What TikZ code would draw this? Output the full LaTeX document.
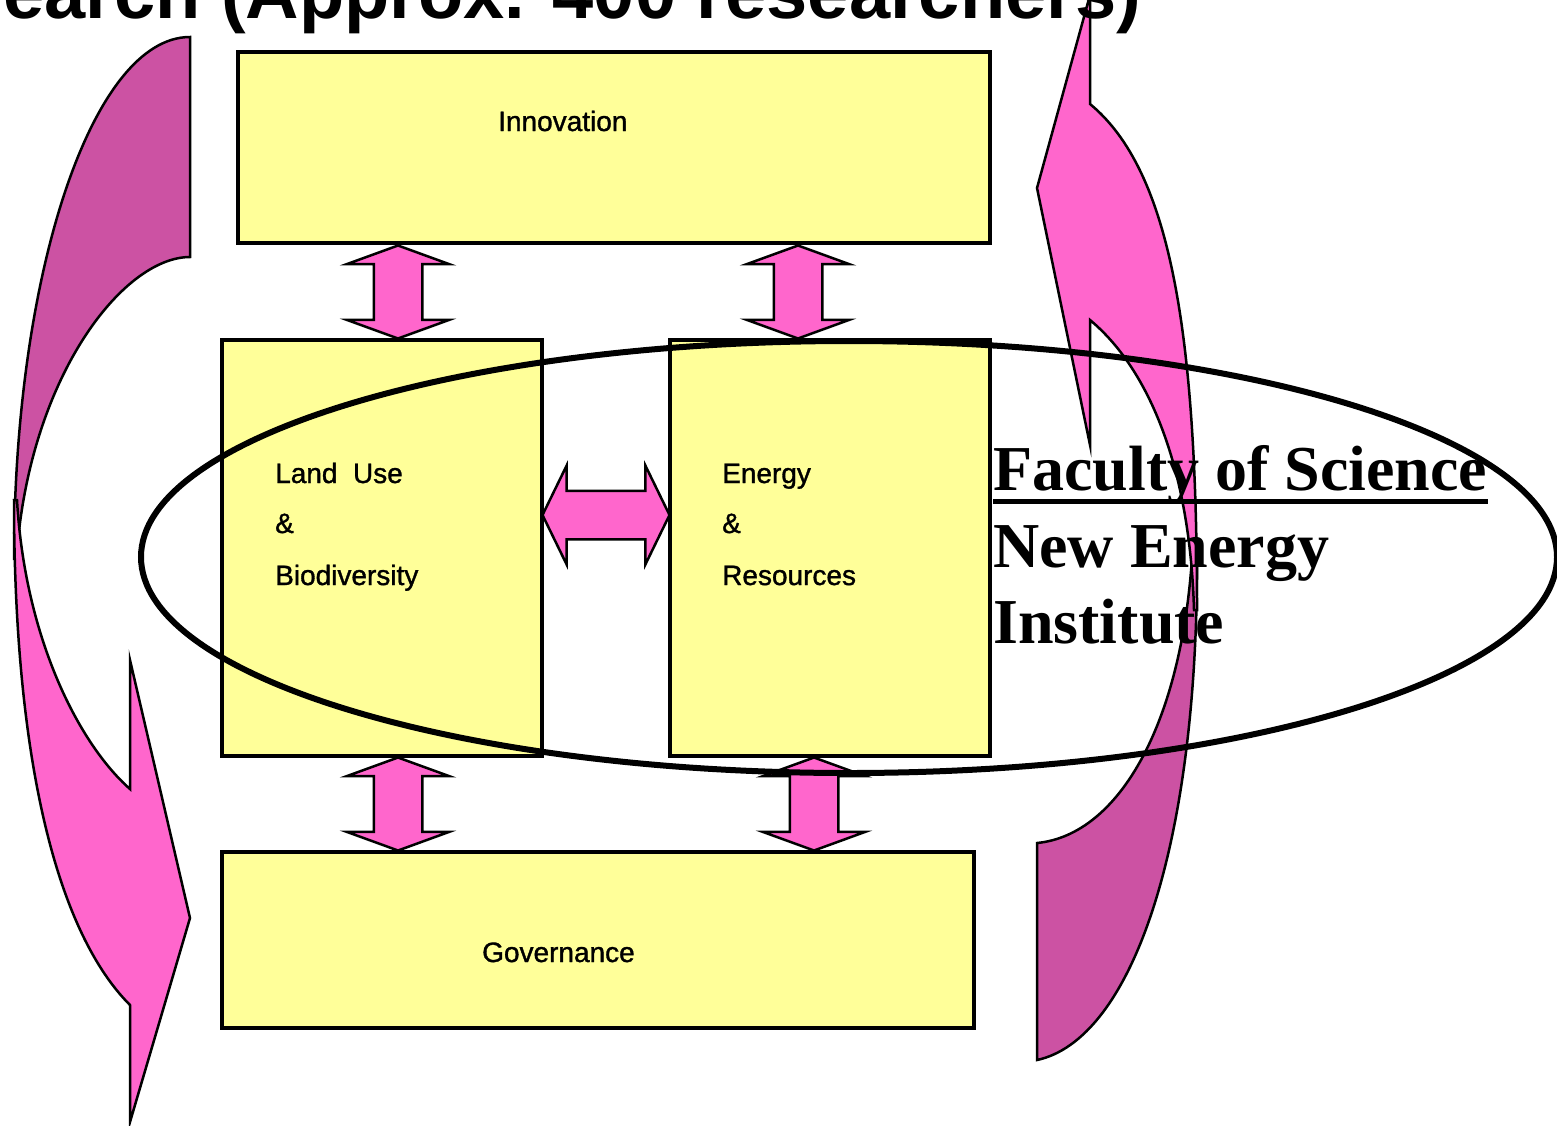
\documentclass[tikz,border=0pt]{standalone}
\usepackage{fontspec}
\setmainfont{Liberation Sans}
\newfontfamily\boxfont[FakeBold=1.2]{Liberation Sans}
\newfontfamily\facfont{Liberation Serif}
\usetikzlibrary{shapes.arrows}
\definecolor{boxyellow}{RGB}{255,255,153}
\definecolor{arrowpink}{RGB}{255,102,204}
\definecolor{arrowdark}{RGB}{204,82,163}

\begin{document}
\begin{tikzpicture}[
    x=1pt, y=-1pt,
    block/.style={
      rectangle,
      draw=black,
      line width=3.5pt,
      fill=boxyellow,
      inner sep=0pt
    },
    boxtext/.style={
      anchor=base west,
      inner sep=0pt,
      font=\boxfont\fontsize{28}{34}\selectfont
    },
    factext/.style={
      anchor=base west,
      inner sep=0pt,
      font=\facfont\bfseries\fontsize{64}{77}\selectfont
    },
    vlink/.style={
      double arrow,
      rotate=90,
      draw=black,
      line width=2.5pt,
      fill=arrowpink,
      inner xsep=0pt,
      inner ysep=23pt,
      minimum width=0pt,
      minimum height=93pt,
      double arrow head extend=27pt,
      double arrow tip angle=140
    },
    hlink/.style={
      vlink,
      rotate=-90,
      minimum height=127pt,
      double arrow head extend=25pt,
      double arrow tip angle=128
    },
    curved/.style={draw=black, line width=2.5pt, line join=miter}
  ]
    \useasboundingbox (0,0) rectangle (1557,1125);

    % curved arrows at the sides
    \draw[curved, fill=arrowdark] (190,37) -- (190,257)
      .. controls (125,257) and (35,370) .. (18,540)
      -- (14,560) .. controls (14,271) and (93,37) .. (190,37) -- cycle;
    \draw[curved, fill=arrowpink] (14,500)
      .. controls (14,770) and (60,935) .. (130,1005)
      -- (130,1122) -- (190,918) -- (130,660) -- (130,789)
      .. controls (80,745) and (25,640) .. (17,500) -- cycle;
    \draw[curved, fill=arrowdark] (1197,540)
      .. controls (1200,850) and (1130,1040) .. (1037,1060)
      -- (1037,843) .. controls (1120,835) and (1185,720) .. (1193,540) -- cycle;
    \draw[curved, fill=arrowpink] (1090,-5) -- (1090,104)
      .. controls (1170,170) and (1197,330) .. (1197,610)
      -- (1194,610) .. controls (1190,470) and (1150,370) .. (1090,320)
      -- (1090,445) -- (1037,188) -- cycle;

    % boxes
    \node[block, minimum width=752pt, minimum height=191pt] (innov) at (614,147.5) {};
    \node[block, minimum width=320pt, minimum height=416pt] (land) at (382,548) {};
    \node[block, minimum width=320pt, minimum height=416pt] (energy) at (830,548) {};
    \node[block, minimum width=752pt, minimum height=176pt] (gov) at (598,940) {};

    \node[boxtext] (innovtext) at (498,131) {Innovation};
    \node[boxtext] (landtext1) at (275,483) {Land\ \ Use};
    \node[boxtext] (landtext2) at (275,533) {\&};
    \node[boxtext] (landtext3) at (275,585) {Biodiversity};
    \node[boxtext] (energytext1) at (722,483) {Energy};
    \node[boxtext] (energytext2) at (722,533) {\&};
    \node[boxtext] (energytext3) at (722,585) {Resources};
    \node[boxtext] (govtext) at (482,962) {Governance};

    % links between boxes
    \node[vlink] (link1) at (398,292) {};
    \node[vlink] (link2) at (798,292) {};
    \node[vlink] (link3) at (398,804) {};
    \node[vlink] (link4) at (814,804) {};
    \node[hlink] (link5) at (606,515) {};

    \draw[line width=6pt] (849,557) ellipse [x radius=708pt, y radius=216pt];

    \node[factext] (fac1) at (993,490) {Faculty of Science};
    \node[factext] (fac2) at (993,567) {New Energy};
    \node[factext] (fac3) at (993,643) {Institute};
    \draw[line width=5pt] ([yshift=-11pt]fac1.base west) -- ([yshift=-11pt]fac1.base east);

    \node[anchor=base west, inner sep=0pt, font=\bfseries\fontsize{74}{80}\selectfont]
      (title) at (3,18) {earch (Approx. 400 researchers)};
\end{tikzpicture}
\end{document}
